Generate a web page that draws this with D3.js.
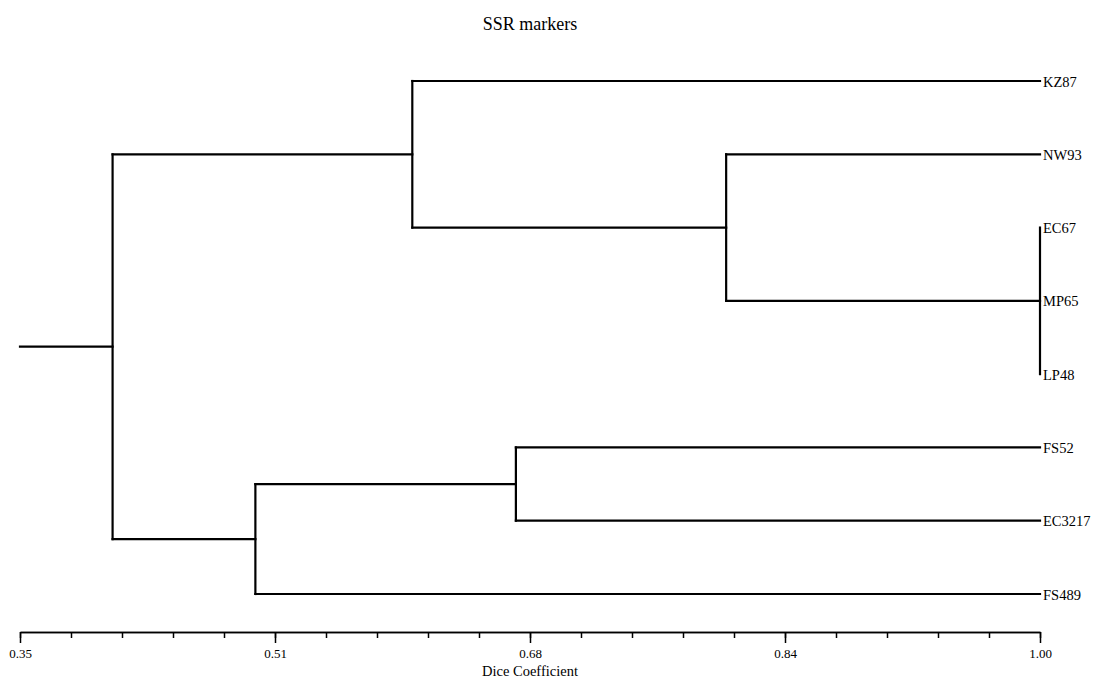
<!DOCTYPE html>
<html>
<head>
<meta charset="utf-8">
<script src="https://cdn.jsdelivr.net/npm/d3@7"></script>
<style>
  html, body { margin: 0; padding: 0; background: #fff; }
  svg { display: block; }
  text { font-family: "Liberation Serif", "Times New Roman", serif; fill: #000; }
</style>
</head>
<body>
<svg id="chart" width="1094" height="679"></svg>
<script>
// ---- data ----
const title = "SSR markers";
const axisTitle = "Dice Coefficient";
const leafNames = ["KZ87", "NW93", "EC67", "MP65", "LP48", "FS52", "EC3217", "FS489"];
// internal nodes (id, similarity at which children join, children)
const nodeIds = ["n0", "n1", "n2", "n3", "n4", "root"];
const nodeHeights = [1.00, 0.80, 0.60, 0.666, 0.50, 0.409];
const nodeChildren = [
  ["EC67", "MP65", "LP48"],
  ["NW93", "n0"],
  ["KZ87", "n1"],
  ["FS52", "EC3217"],
  ["n3", "FS489"],
  ["n2", "n4"]
];
const majorTicks = [0.35, 0.5125, 0.675, 0.8375, 1.00];
const majorTickLabels = ["0.35", "0.51", "0.68", "0.84", "1.00"];
const minorTicks = d3.range(0, 21).map(i => 0.35 + i * 0.0325);
const axisMin = 0.35, axisMax = 1.00;

// ---- layout ----
const svg = d3.select("#chart");
const x = d3.scaleLinear().domain([axisMin, axisMax]).range([20, 1040]);
const y = d3.scalePoint().domain(leafNames).range([81, 594]);

// build tree
const nodes = {};
leafNames.forEach(n => { nodes[n] = { id: n, h: 1.00, leaf: true }; });
nodeIds.forEach((id, i) => {
  nodes[id] = { id, h: nodeHeights[i], leaf: false, children: nodeChildren[i].map(c => nodes[c]) };
});
const root = d3.hierarchy(nodes["root"], d => d.children);
root.eachAfter(d => {
  if (!d.children) { d.py = y(d.data.id); }
  else {
    const ys = d.children.map(c => c.py);
    d.py = (d3.min(ys) + d3.max(ys)) / 2;
  }
  d.px = x(d.data.h);
});

const g = svg.append("g");
const lineStyle = sel => sel.attr("stroke", "#000").attr("stroke-width", 2.2).attr("fill", "none").attr("stroke-linecap", "square");

// root stub
g.append("line").call(lineStyle)
  .attr("x1", x(axisMin)).attr("x2", root.px).attr("y1", root.py).attr("y2", root.py);

root.descendants().filter(d => d.children).forEach(d => {
  const ys = d.children.map(c => c.py);
  g.append("line").call(lineStyle)
    .attr("x1", d.px).attr("x2", d.px).attr("y1", d3.min(ys)).attr("y2", d3.max(ys));
  d.children.forEach(c => {
    if (c.px > d.px) {
      g.append("line").call(lineStyle)
        .attr("x1", d.px).attr("x2", c.px).attr("y1", c.py).attr("y2", c.py);
    }
  });
});

// leaf labels
g.selectAll("text.leaf").data(root.leaves()).join("text")
  .attr("class", "leaf")
  .attr("x", d => d.px + 3)
  .attr("y", d => d.py)
  .attr("dy", "0.38em")
  .attr("font-size", 14.5)
  .text(d => d.data.id);

// title
svg.append("text").attr("x", 530).attr("y", 30).attr("text-anchor", "middle")
  .attr("font-size", 18).text(title);

// axis
const axisY = 632;
const minorAxis = d3.axisBottom(x).tickValues(minorTicks).tickSize(6).tickSizeOuter(0).tickFormat("");
const majorAxis = d3.axisBottom(x).tickValues(majorTicks).tickSize(11).tickSizeOuter(0)
  .tickFormat((d, i) => majorTickLabels[i]).tickPadding(6);

const ga1 = svg.append("g").attr("transform", `translate(0,${axisY})`).call(minorAxis);
const ga2 = svg.append("g").attr("transform", `translate(0,${axisY})`).call(majorAxis);
[ga1, ga2].forEach(ga => {
  ga.selectAll("path,line").attr("stroke", "#000").attr("stroke-width", 1.5);
});
ga2.selectAll("text").attr("font-size", 13).attr("font-family", "Liberation Serif").attr("fill", "#000");

svg.append("text").attr("x", 530).attr("y", 676).attr("text-anchor", "middle")
  .attr("font-size", 14.5).text(axisTitle);
</script>
</body>
</html>
